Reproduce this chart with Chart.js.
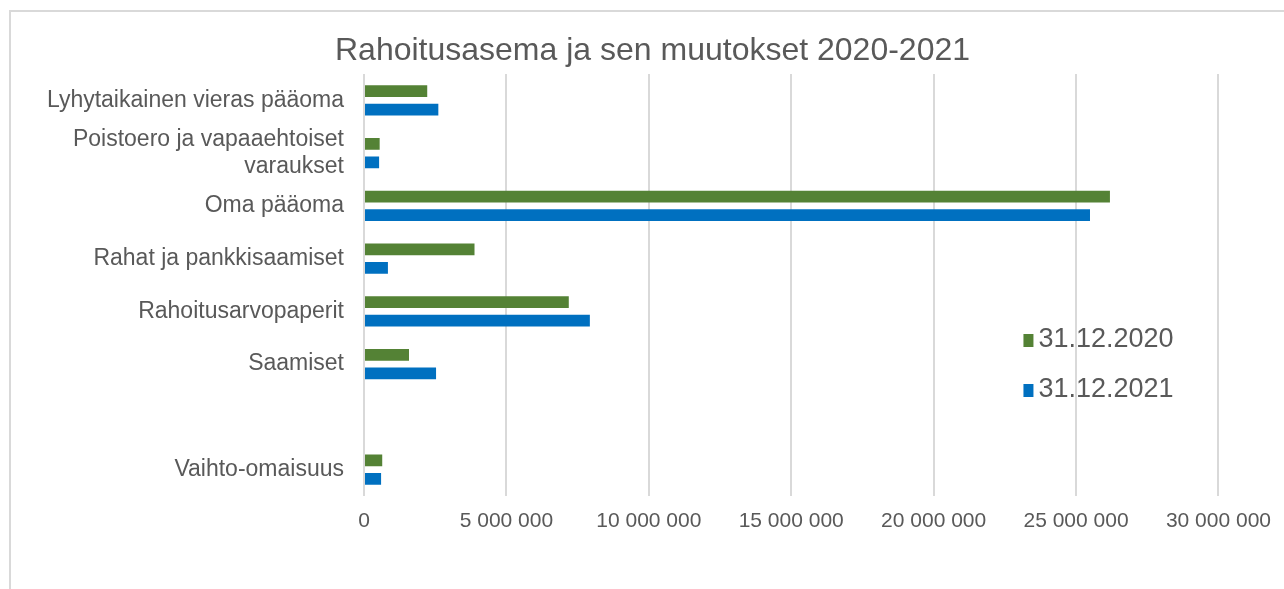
<!DOCTYPE html>
<html lang="fi">
<head>
    <meta charset="UTF-8">
    <title>Rahoitusasema ja sen muutokset 2020-2021</title>
    <script src="https://cdn.jsdelivr.net/npm/chart.js"></script>
    <style>
        html, body { margin: 0; padding: 0; background: #ffffff; }
        .frame {
            position: absolute;
            left: 9px;
            top: 10px;
            width: 1275px;
            height: 579px;
            border-left: 2px solid #d9d9d9;
            border-top: 2px solid #d9d9d9;
        }
        canvas { display: block; }
    </style>
</head>
<body>
    <div class="frame">
        <canvas id="chart" width="1273" height="577"></canvas>
    </div>

    <script>
        // Data
        const categories = [
            'Lyhytaikainen vieras pääoma',
            ['Poistoero ja vapaaehtoiset', 'varaukset'],
            'Oma pääoma',
            'Rahat ja pankkisaamiset',
            'Rahoitusarvopaperit',
            'Saamiset',
            '',
            'Vaihto-omaisuus'
        ];
        const values2020 = [2220000, 550000, 26190000, 3880000, 7190000, 1580000, null, 640000];
        const values2021 = [2610000, 530000, 25490000, 840000, 7930000, 2530000, null, 600000];
        const seriesLabels = ['31.12.2020', '31.12.2021'];
        const xTicks = [0, 5000000, 10000000, 15000000, 20000000, 25000000, 30000000];
        const chartTitle = 'Rahoitusasema ja sen muutokset 2020-2021';

        const textColor = '#595959';
        const fontFamily = "'Liberation Sans', Arial, sans-serif";

        const formatNumber = (v) => String(v).replace(/\B(?=(\d{3})+(?!\d))/g, ' ');

        // Title centred on the whole frame (the built-in one is centred on the padded box)
        const frameTitle = {
            id: 'frameTitle',
            afterDraw(chart) {
                const ctx = chart.ctx;
                ctx.save();
                ctx.font = '32px ' + fontFamily;
                ctx.fillStyle = textColor;
                ctx.textAlign = 'center';
                ctx.textBaseline = 'alphabetic';
                ctx.fillText(chartTitle, chart.width / 2 + 5, 48);
                ctx.restore();
            }
        };

        // Legend drawn inside the plot area, like the original
        const insideLegend = {
            id: 'insideLegend',
            afterDatasetsDraw(chart) {
                const ctx = chart.ctx;
                const area = chart.chartArea;
                const x = area.right - 195;
                const rows = [area.top + 266, area.top + 316];
                ctx.save();
                ctx.font = '27px ' + fontFamily;
                ctx.textBaseline = 'middle';
                ctx.textAlign = 'left';
                chart.data.datasets.forEach((ds, i) => {
                    const y = rows[i];
                    ctx.fillStyle = ds.backgroundColor;
                    ctx.fillRect(x, y - 6, 10, 13);
                    ctx.fillStyle = textColor;
                    ctx.fillText(ds.label, x + 15, y);
                });
                ctx.restore();
            }
        };

        new Chart(document.getElementById('chart'), {
            type: 'bar',
            data: {
                labels: categories,
                datasets: [
                    {
                        label: seriesLabels[0],
                        data: values2020,
                        backgroundColor: '#548235',
                        categoryPercentage: 0.7,
                        barPercentage: 0.64
                    },
                    {
                        label: seriesLabels[1],
                        data: values2021,
                        backgroundColor: '#0070c0',
                        categoryPercentage: 0.7,
                        barPercentage: 0.64
                    }
                ]
            },
            options: {
                indexAxis: 'y',
                responsive: false,
                animation: false,
                devicePixelRatio: 1,
                layout: {
                    padding: { left: 0, right: 64, top: 62, bottom: 0 }
                },
                plugins: {
                    legend: { display: false },
                    tooltip: { enabled: false },
                    title: { display: false }
                },
                scales: {
                    x: {
                        min: 0,
                        max: 30000000,
                        afterBuildTicks: (scale) => {
                            scale.ticks = xTicks.map(v => ({ value: v }));
                        },
                        afterFit: (scale) => { scale.height = 93; },
                        grid: {
                            color: '#d9d9d9',
                            lineWidth: 2,
                            drawTicks: false
                        },
                        border: { display: false },
                        ticks: {
                            color: textColor,
                            padding: 13,
                            font: { family: fontFamily, size: 21 },
                            callback: (v) => formatNumber(v)
                        }
                    },
                    y: {
                        afterFit: (scale) => { scale.width = 353; },
                        grid: { display: false },
                        border: { display: false },
                        ticks: {
                            autoSkip: false,
                            color: textColor,
                            padding: 12,
                            font: { family: fontFamily, size: 23, lineHeight: 1.17 }
                        }
                    }
                }
            },
            plugins: [frameTitle, insideLegend]
        });
    </script>
</body>
</html>
